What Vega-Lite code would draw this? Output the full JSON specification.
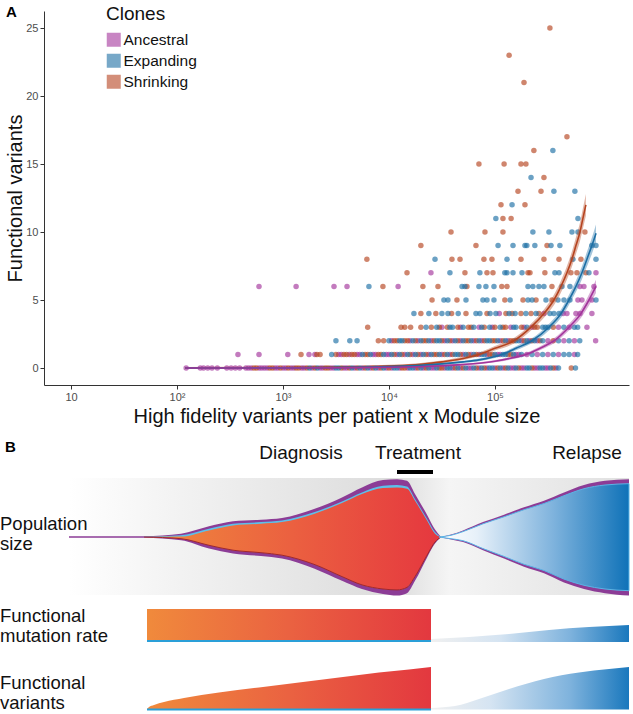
{
"$schema":"https://vega.github.io/schema/vega-lite/v6.json",
"padding":{"top":4,"left":0,"right":0,"bottom":0},
"autosize":{"type":"pad"},
"background":"white",
"spacing":14,
"config":{"view":{"stroke":null},"font":"Liberation Sans"},
"datasets":{
"pts":[
{"x":122,"y":0,"c":"Ancestral"},{"x":166,"y":0,"c":"Ancestral"},{"x":178,"y":0,"c":"Ancestral"},{"x":195,"y":0,"c":"Ancestral"},{"x":214,"y":0,"c":"Ancestral"},{"x":240,"y":0,"c":"Ancestral"},{"x":295,"y":0,"c":"Ancestral"},{"x":324,"y":0,"c":"Ancestral"},{"x":355,"y":0,"c":"Ancestral"},{"x":390,"y":0,"c":"Ancestral"},{"x":447,"y":0,"c":"Ancestral"},{"x":473,"y":0,"c":"Ancestral"},{"x":501,"y":0,"c":"Ancestral"},{"x":596,"y":0,"c":"Ancestral"},{"x":631,"y":0,"c":"Ancestral"},{"x":668,"y":0,"c":"Ancestral"},{"x":708,"y":0,"c":"Ancestral"},{"x":841,"y":0,"c":"Ancestral"},{"x":891,"y":0,"c":"Ancestral"},{"x":1000,"y":0,"c":"Ancestral"},{"x":1060,"y":0,"c":"Ancestral"},{"x":1190,"y":0,"c":"Ancestral"},{"x":1260,"y":0,"c":"Ancestral"},{"x":1500,"y":0,"c":"Ancestral"},{"x":1580,"y":0,"c":"Ancestral"},{"x":1880,"y":0,"c":"Ancestral"},{"x":2240,"y":0,"c":"Ancestral"},{"x":2370,"y":0,"c":"Ancestral"},{"x":2820,"y":0,"c":"Ancestral"},{"x":2990,"y":0,"c":"Ancestral"},{"x":3760,"y":0,"c":"Ancestral"},{"x":3980,"y":0,"c":"Ancestral"},{"x":4730,"y":0,"c":"Ancestral"},{"x":5620,"y":0,"c":"Ancestral"},{"x":6680,"y":0,"c":"Ancestral"},{"x":7940,"y":0,"c":"Ancestral"},{"x":9440,"y":0,"c":"Ancestral"},{"x":10600,"y":0,"c":"Ancestral"},{"x":12600,"y":0,"c":"Ancestral"},{"x":15000,"y":0,"c":"Ancestral"},{"x":17800,"y":0,"c":"Ancestral"},{"x":21100,"y":0,"c":"Ancestral"},{"x":25100,"y":0,"c":"Ancestral"},{"x":26600,"y":0,"c":"Ancestral"},{"x":33500,"y":0,"c":"Ancestral"},{"x":39800,"y":0,"c":"Ancestral"},{"x":47300,"y":0,"c":"Ancestral"},{"x":56200,"y":0,"c":"Ancestral"},{"x":59600,"y":0,"c":"Ancestral"},{"x":70800,"y":0,"c":"Ancestral"},{"x":84100,"y":0,"c":"Ancestral"},{"x":100000,"y":0,"c":"Ancestral"},{"x":119000,"y":0,"c":"Ancestral"},{"x":141000,"y":0,"c":"Ancestral"},{"x":150000,"y":0,"c":"Ancestral"},{"x":178000,"y":0,"c":"Ancestral"},{"x":188000,"y":0,"c":"Ancestral"},{"x":237000,"y":0,"c":"Ancestral"},{"x":251000,"y":0,"c":"Ancestral"},{"x":299000,"y":0,"c":"Ancestral"},{"x":316000,"y":0,"c":"Ancestral"},{"x":376000,"y":0,"c":"Ancestral"},
{"x":531,"y":0,"c":"Shrinking"},{"x":562,"y":0,"c":"Shrinking"},{"x":750,"y":0,"c":"Shrinking"},{"x":794,"y":0,"c":"Shrinking"},{"x":944,"y":0,"c":"Shrinking"},{"x":1120,"y":0,"c":"Shrinking"},{"x":1330,"y":0,"c":"Shrinking"},{"x":1410,"y":0,"c":"Shrinking"},{"x":1680,"y":0,"c":"Shrinking"},{"x":2000,"y":0,"c":"Shrinking"},{"x":2510,"y":0,"c":"Shrinking"},{"x":2660,"y":0,"c":"Shrinking"},{"x":3550,"y":0,"c":"Shrinking"},{"x":4220,"y":0,"c":"Shrinking"},{"x":5010,"y":0,"c":"Shrinking"},{"x":5960,"y":0,"c":"Shrinking"},{"x":7080,"y":0,"c":"Shrinking"},{"x":8410,"y":0,"c":"Shrinking"},{"x":10000,"y":0,"c":"Shrinking"},{"x":13300,"y":0,"c":"Shrinking"},{"x":14100,"y":0,"c":"Shrinking"},{"x":18800,"y":0,"c":"Shrinking"},{"x":22400,"y":0,"c":"Shrinking"},{"x":29900,"y":0,"c":"Shrinking"},{"x":31600,"y":0,"c":"Shrinking"},{"x":42200,"y":0,"c":"Shrinking"},{"x":50100,"y":0,"c":"Shrinking"},{"x":66800,"y":0,"c":"Shrinking"},{"x":79400,"y":0,"c":"Shrinking"},{"x":106000,"y":0,"c":"Shrinking"},{"x":126000,"y":0,"c":"Shrinking"},{"x":168000,"y":0,"c":"Shrinking"},{"x":224000,"y":0,"c":"Shrinking"},{"x":355000,"y":0,"c":"Shrinking"},{"x":525000,"y":0,"c":"Shrinking"},
{"x":1780,"y":0,"c":"Expanding"},{"x":2110,"y":0,"c":"Expanding"},{"x":3160,"y":0,"c":"Expanding"},{"x":3350,"y":0,"c":"Expanding"},{"x":4470,"y":0,"c":"Expanding"},{"x":5310,"y":0,"c":"Expanding"},{"x":6310,"y":0,"c":"Expanding"},{"x":7500,"y":0,"c":"Expanding"},{"x":8910,"y":0,"c":"Expanding"},{"x":11200,"y":0,"c":"Expanding"},{"x":11900,"y":0,"c":"Expanding"},{"x":15800,"y":0,"c":"Expanding"},{"x":16800,"y":0,"c":"Expanding"},{"x":20000,"y":0,"c":"Expanding"},{"x":23700,"y":0,"c":"Expanding"},{"x":28200,"y":0,"c":"Expanding"},{"x":35500,"y":0,"c":"Expanding"},{"x":37600,"y":0,"c":"Expanding"},{"x":44700,"y":0,"c":"Expanding"},{"x":53100,"y":0,"c":"Expanding"},{"x":63100,"y":0,"c":"Expanding"},{"x":75000,"y":0,"c":"Expanding"},{"x":89100,"y":0,"c":"Expanding"},{"x":94400,"y":0,"c":"Expanding"},{"x":112000,"y":0,"c":"Expanding"},{"x":133000,"y":0,"c":"Expanding"},{"x":158000,"y":0,"c":"Expanding"},{"x":200000,"y":0,"c":"Expanding"},{"x":211000,"y":0,"c":"Expanding"},{"x":266000,"y":0,"c":"Expanding"},{"x":282000,"y":0,"c":"Expanding"},{"x":335000,"y":0,"c":"Expanding"},{"x":398000,"y":0,"c":"Expanding"},{"x":575000,"y":0,"c":"Expanding"},
{"x":376,"y":1,"c":"Ancestral"},{"x":594,"y":1,"c":"Ancestral"},{"x":1110,"y":1,"c":"Ancestral"},{"x":1760,"y":1,"c":"Ancestral"},{"x":2000,"y":1,"c":"Ancestral"},{"x":3350,"y":1,"c":"Ancestral"},{"x":3550,"y":1,"c":"Ancestral"},{"x":4220,"y":1,"c":"Ancestral"},{"x":5010,"y":1,"c":"Ancestral"},{"x":5310,"y":1,"c":"Ancestral"},{"x":7080,"y":1,"c":"Ancestral"},{"x":7500,"y":1,"c":"Ancestral"},{"x":9440,"y":1,"c":"Ancestral"},{"x":10000,"y":1,"c":"Ancestral"},{"x":11900,"y":1,"c":"Ancestral"},{"x":14100,"y":1,"c":"Ancestral"},{"x":16800,"y":1,"c":"Ancestral"},{"x":20000,"y":1,"c":"Ancestral"},{"x":23700,"y":1,"c":"Ancestral"},{"x":31600,"y":1,"c":"Ancestral"},{"x":37600,"y":1,"c":"Ancestral"},{"x":50100,"y":1,"c":"Ancestral"},{"x":59600,"y":1,"c":"Ancestral"},{"x":70800,"y":1,"c":"Ancestral"},{"x":84100,"y":1,"c":"Ancestral"},{"x":106000,"y":1,"c":"Ancestral"},{"x":112000,"y":1,"c":"Ancestral"},{"x":158000,"y":1,"c":"Ancestral"},{"x":168000,"y":1,"c":"Ancestral"},{"x":200000,"y":1,"c":"Ancestral"},{"x":251000,"y":1,"c":"Ancestral"},{"x":316000,"y":1,"c":"Ancestral"},{"x":398000,"y":1,"c":"Ancestral"},{"x":562000,"y":1,"c":"Ancestral"},
{"x":1480,"y":1,"c":"Shrinking"},{"x":2090,"y":1,"c":"Shrinking"},{"x":2240,"y":1,"c":"Shrinking"},{"x":3160,"y":1,"c":"Shrinking"},{"x":3760,"y":1,"c":"Shrinking"},{"x":3980,"y":1,"c":"Shrinking"},{"x":4470,"y":1,"c":"Shrinking"},{"x":4730,"y":1,"c":"Shrinking"},{"x":5960,"y":1,"c":"Shrinking"},{"x":6310,"y":1,"c":"Shrinking"},{"x":7940,"y":1,"c":"Shrinking"},{"x":8410,"y":1,"c":"Shrinking"},{"x":11200,"y":1,"c":"Shrinking"},{"x":13300,"y":1,"c":"Shrinking"},{"x":15800,"y":1,"c":"Shrinking"},{"x":18800,"y":1,"c":"Shrinking"},{"x":22400,"y":1,"c":"Shrinking"},{"x":26600,"y":1,"c":"Shrinking"},{"x":28200,"y":1,"c":"Shrinking"},{"x":33500,"y":1,"c":"Shrinking"},{"x":39800,"y":1,"c":"Shrinking"},{"x":47300,"y":1,"c":"Shrinking"},{"x":56200,"y":1,"c":"Shrinking"},{"x":66800,"y":1,"c":"Shrinking"},{"x":89100,"y":1,"c":"Shrinking"},{"x":94400,"y":1,"c":"Shrinking"},{"x":133000,"y":1,"c":"Shrinking"},{"x":141000,"y":1,"c":"Shrinking"},
{"x":2880,"y":1,"c":"Expanding"},{"x":5620,"y":1,"c":"Expanding"},{"x":6680,"y":1,"c":"Expanding"},{"x":8910,"y":1,"c":"Expanding"},{"x":10600,"y":1,"c":"Expanding"},{"x":12600,"y":1,"c":"Expanding"},{"x":15000,"y":1,"c":"Expanding"},{"x":17800,"y":1,"c":"Expanding"},{"x":21100,"y":1,"c":"Expanding"},{"x":25100,"y":1,"c":"Expanding"},{"x":29900,"y":1,"c":"Expanding"},{"x":35500,"y":1,"c":"Expanding"},{"x":42200,"y":1,"c":"Expanding"},{"x":44700,"y":1,"c":"Expanding"},{"x":53100,"y":1,"c":"Expanding"},{"x":63100,"y":1,"c":"Expanding"},{"x":75000,"y":1,"c":"Expanding"},{"x":79400,"y":1,"c":"Expanding"},{"x":100000,"y":1,"c":"Expanding"},{"x":119000,"y":1,"c":"Expanding"},{"x":126000,"y":1,"c":"Expanding"},{"x":150000,"y":1,"c":"Expanding"},{"x":178000,"y":1,"c":"Expanding"},{"x":224000,"y":1,"c":"Expanding"},{"x":282000,"y":1,"c":"Expanding"},{"x":355000,"y":1,"c":"Expanding"},{"x":447000,"y":1,"c":"Expanding"},{"x":501000,"y":1,"c":"Expanding"},{"x":603000,"y":1,"c":"Expanding"},
{"x":10600,"y":2,"c":"Ancestral"},{"x":15800,"y":2,"c":"Ancestral"},{"x":18800,"y":2,"c":"Ancestral"},{"x":25100,"y":2,"c":"Ancestral"},{"x":33500,"y":2,"c":"Ancestral"},{"x":39800,"y":2,"c":"Ancestral"},{"x":47300,"y":2,"c":"Ancestral"},{"x":63100,"y":2,"c":"Ancestral"},{"x":75000,"y":2,"c":"Ancestral"},{"x":112000,"y":2,"c":"Ancestral"},{"x":133000,"y":2,"c":"Ancestral"},{"x":178000,"y":2,"c":"Ancestral"},{"x":211000,"y":2,"c":"Ancestral"},{"x":251000,"y":2,"c":"Ancestral"},{"x":316000,"y":2,"c":"Ancestral"},{"x":447000,"y":2,"c":"Ancestral"},{"x":562000,"y":2,"c":"Ancestral"},{"x":891000,"y":2,"c":"Ancestral"},
{"x":7940,"y":2,"c":"Shrinking"},{"x":8910,"y":2,"c":"Shrinking"},{"x":11200,"y":2,"c":"Shrinking"},{"x":11900,"y":2,"c":"Shrinking"},{"x":14100,"y":2,"c":"Shrinking"},{"x":15000,"y":2,"c":"Shrinking"},{"x":17800,"y":2,"c":"Shrinking"},{"x":21100,"y":2,"c":"Shrinking"},{"x":22400,"y":2,"c":"Shrinking"},{"x":26600,"y":2,"c":"Shrinking"},{"x":31600,"y":2,"c":"Shrinking"},{"x":37600,"y":2,"c":"Shrinking"},{"x":44700,"y":2,"c":"Shrinking"},{"x":53100,"y":2,"c":"Shrinking"},{"x":56200,"y":2,"c":"Shrinking"},{"x":66800,"y":2,"c":"Shrinking"},{"x":79400,"y":2,"c":"Shrinking"},{"x":94400,"y":2,"c":"Shrinking"},{"x":100000,"y":2,"c":"Shrinking"},{"x":119000,"y":2,"c":"Shrinking"},{"x":141000,"y":2,"c":"Shrinking"},{"x":150000,"y":2,"c":"Shrinking"},{"x":188000,"y":2,"c":"Shrinking"},{"x":224000,"y":2,"c":"Shrinking"},{"x":266000,"y":2,"c":"Shrinking"},{"x":355000,"y":2,"c":"Shrinking"},
{"x":3160,"y":2,"c":"Expanding"},{"x":4270,"y":2,"c":"Expanding"},{"x":5000,"y":2,"c":"Expanding"},{"x":10000,"y":2,"c":"Expanding"},{"x":12600,"y":2,"c":"Expanding"},{"x":13300,"y":2,"c":"Expanding"},{"x":16800,"y":2,"c":"Expanding"},{"x":20000,"y":2,"c":"Expanding"},{"x":23700,"y":2,"c":"Expanding"},{"x":28200,"y":2,"c":"Expanding"},{"x":29900,"y":2,"c":"Expanding"},{"x":35500,"y":2,"c":"Expanding"},{"x":42200,"y":2,"c":"Expanding"},{"x":50100,"y":2,"c":"Expanding"},{"x":59600,"y":2,"c":"Expanding"},{"x":70800,"y":2,"c":"Expanding"},{"x":84100,"y":2,"c":"Expanding"},{"x":89100,"y":2,"c":"Expanding"},{"x":106000,"y":2,"c":"Expanding"},{"x":126000,"y":2,"c":"Expanding"},{"x":158000,"y":2,"c":"Expanding"},{"x":168000,"y":2,"c":"Expanding"},{"x":200000,"y":2,"c":"Expanding"},{"x":237000,"y":2,"c":"Expanding"},{"x":282000,"y":2,"c":"Expanding"},{"x":398000,"y":2,"c":"Expanding"},{"x":501000,"y":2,"c":"Expanding"},{"x":631000,"y":2,"c":"Expanding"},
{"x":31600,"y":3,"c":"Ancestral"},{"x":47300,"y":3,"c":"Ancestral"},{"x":70800,"y":3,"c":"Ancestral"},{"x":94400,"y":3,"c":"Ancestral"},{"x":141000,"y":3,"c":"Ancestral"},{"x":188000,"y":3,"c":"Ancestral"},{"x":224000,"y":3,"c":"Ancestral"},{"x":398000,"y":3,"c":"Ancestral"},{"x":501000,"y":3,"c":"Ancestral"},{"x":738000,"y":3,"c":"Ancestral"},
{"x":6300,"y":3,"c":"Shrinking"},{"x":13000,"y":3,"c":"Shrinking"},{"x":14100,"y":3,"c":"Shrinking"},{"x":16000,"y":3,"c":"Shrinking"},{"x":20000,"y":3,"c":"Shrinking"},{"x":25100,"y":3,"c":"Shrinking"},{"x":29900,"y":3,"c":"Shrinking"},{"x":35500,"y":3,"c":"Shrinking"},{"x":44700,"y":3,"c":"Shrinking"},{"x":56200,"y":3,"c":"Shrinking"},{"x":59600,"y":3,"c":"Shrinking"},{"x":79400,"y":3,"c":"Shrinking"},{"x":100000,"y":3,"c":"Shrinking"},{"x":119000,"y":3,"c":"Shrinking"},{"x":126000,"y":3,"c":"Shrinking"},{"x":178000,"y":3,"c":"Shrinking"},{"x":237000,"y":3,"c":"Shrinking"},{"x":251000,"y":3,"c":"Shrinking"},{"x":355000,"y":3,"c":"Shrinking"},
{"x":22400,"y":3,"c":"Expanding"},{"x":28200,"y":3,"c":"Expanding"},{"x":37600,"y":3,"c":"Expanding"},{"x":39800,"y":3,"c":"Expanding"},{"x":50100,"y":3,"c":"Expanding"},{"x":63100,"y":3,"c":"Expanding"},{"x":75000,"y":3,"c":"Expanding"},{"x":89100,"y":3,"c":"Expanding"},{"x":112000,"y":3,"c":"Expanding"},{"x":150000,"y":3,"c":"Expanding"},{"x":158000,"y":3,"c":"Expanding"},{"x":200000,"y":3,"c":"Expanding"},{"x":282000,"y":3,"c":"Expanding"},{"x":299000,"y":3,"c":"Expanding"},{"x":316000,"y":3,"c":"Expanding"},{"x":447000,"y":3,"c":"Expanding"},{"x":562000,"y":3,"c":"Expanding"},{"x":603000,"y":3,"c":"Expanding"},
{"x":110000,"y":4,"c":"Ancestral"},{"x":290000,"y":4,"c":"Ancestral"},{"x":440000,"y":4,"c":"Ancestral"},{"x":478000,"y":4,"c":"Ancestral"},{"x":581000,"y":4,"c":"Ancestral"},{"x":634000,"y":4,"c":"Ancestral"},{"x":822000,"y":4,"c":"Ancestral"},
{"x":20000,"y":4,"c":"Shrinking"},{"x":27700,"y":4,"c":"Shrinking"},{"x":39000,"y":4,"c":"Shrinking"},{"x":53300,"y":4,"c":"Shrinking"},{"x":84100,"y":4,"c":"Shrinking"},{"x":127000,"y":4,"c":"Shrinking"},{"x":145000,"y":4,"c":"Shrinking"},{"x":176000,"y":4,"c":"Shrinking"},{"x":219000,"y":4,"c":"Shrinking"},{"x":260000,"y":4,"c":"Shrinking"},
{"x":17200,"y":4,"c":"Expanding"},{"x":23800,"y":4,"c":"Expanding"},{"x":31600,"y":4,"c":"Expanding"},{"x":36000,"y":4,"c":"Expanding"},{"x":45000,"y":4,"c":"Expanding"},{"x":66200,"y":4,"c":"Expanding"},{"x":72100,"y":4,"c":"Expanding"},{"x":90000,"y":4,"c":"Expanding"},{"x":102000,"y":4,"c":"Expanding"},{"x":136000,"y":4,"c":"Expanding"},{"x":155000,"y":4,"c":"Expanding"},{"x":196000,"y":4,"c":"Expanding"},{"x":244000,"y":4,"c":"Expanding"},{"x":330000,"y":4,"c":"Expanding"},{"x":360000,"y":4,"c":"Expanding"},{"x":402000,"y":4,"c":"Expanding"},
{"x":607000,"y":5,"c":"Ancestral"},{"x":662000,"y":5,"c":"Ancestral"},{"x":822000,"y":5,"c":"Ancestral"},
{"x":25500,"y":5,"c":"Shrinking"},{"x":43800,"y":5,"c":"Shrinking"},{"x":124000,"y":5,"c":"Shrinking"},{"x":184000,"y":5,"c":"Shrinking"},{"x":244000,"y":5,"c":"Shrinking"},{"x":345000,"y":5,"c":"Shrinking"},
{"x":33000,"y":5,"c":"Expanding"},{"x":36000,"y":5,"c":"Expanding"},{"x":53300,"y":5,"c":"Expanding"},{"x":77000,"y":5,"c":"Expanding"},{"x":84100,"y":5,"c":"Expanding"},{"x":97900,"y":5,"c":"Expanding"},{"x":139000,"y":5,"c":"Expanding"},{"x":205000,"y":5,"c":"Expanding"},{"x":224000,"y":5,"c":"Expanding"},{"x":303000,"y":5,"c":"Expanding"},{"x":393000,"y":5,"c":"Expanding"},{"x":448000,"y":5,"c":"Expanding"},{"x":510000,"y":5,"c":"Expanding"},{"x":898000,"y":5,"c":"Expanding"},
{"x":594,"y":6,"c":"Ancestral"},{"x":1330,"y":6,"c":"Ancestral"},{"x":3030,"y":6,"c":"Ancestral"},{"x":4020,"y":6,"c":"Ancestral"},{"x":12200,"y":6,"c":"Ancestral"},{"x":634000,"y":6,"c":"Ancestral"},{"x":691000,"y":6,"c":"Ancestral"},{"x":859000,"y":6,"c":"Ancestral"},
{"x":8770,"y":6,"c":"Shrinking"},{"x":20900,"y":6,"c":"Shrinking"},{"x":29000,"y":6,"c":"Shrinking"},{"x":54400,"y":6,"c":"Shrinking"},{"x":116000,"y":6,"c":"Shrinking"},{"x":130000,"y":6,"c":"Shrinking"},{"x":345000,"y":6,"c":"Shrinking"},
{"x":6470,"y":6,"c":"Expanding"},{"x":48900,"y":6,"c":"Expanding"},{"x":52100,"y":6,"c":"Expanding"},{"x":70600,"y":6,"c":"Expanding"},{"x":82200,"y":6,"c":"Expanding"},{"x":97900,"y":6,"c":"Expanding"},{"x":205000,"y":6,"c":"Expanding"},{"x":228000,"y":6,"c":"Expanding"},{"x":260000,"y":6,"c":"Expanding"},{"x":290000,"y":6,"c":"Expanding"},{"x":429000,"y":6,"c":"Expanding"},{"x":510000,"y":6,"c":"Expanding"},
{"x":24900,"y":7,"c":"Ancestral"},{"x":898000,"y":7,"c":"Ancestral"},
{"x":14800,"y":7,"c":"Shrinking"},{"x":52100,"y":7,"c":"Shrinking"},{"x":84100,"y":7,"c":"Shrinking"},{"x":95800,"y":7,"c":"Shrinking"},{"x":205000,"y":7,"c":"Shrinking"},{"x":214000,"y":7,"c":"Shrinking"},{"x":296000,"y":7,"c":"Shrinking"},{"x":521000,"y":7,"c":"Shrinking"},{"x":594000,"y":7,"c":"Shrinking"},{"x":721000,"y":7,"c":"Shrinking"},
{"x":37600,"y":7,"c":"Expanding"},{"x":72100,"y":7,"c":"Expanding"},{"x":124000,"y":7,"c":"Expanding"},{"x":130000,"y":7,"c":"Expanding"},{"x":148000,"y":7,"c":"Expanding"},{"x":180000,"y":7,"c":"Expanding"},{"x":368000,"y":7,"c":"Expanding"},{"x":402000,"y":7,"c":"Expanding"},{"x":771000,"y":7,"c":"Expanding"},
{"x":6190,"y":8,"c":"Shrinking"},{"x":39300,"y":8,"c":"Shrinking"},{"x":46800,"y":8,"c":"Shrinking"},{"x":78700,"y":8,"c":"Shrinking"},{"x":93700,"y":8,"c":"Shrinking"},{"x":176000,"y":8,"c":"Shrinking"},{"x":290000,"y":8,"c":"Shrinking"},{"x":402000,"y":8,"c":"Shrinking"},{"x":648000,"y":8,"c":"Shrinking"},
{"x":27200,"y":8,"c":"Expanding"},{"x":130000,"y":8,"c":"Expanding"},{"x":544000,"y":8,"c":"Expanding"},{"x":898000,"y":8,"c":"Expanding"},
{"x":20000,"y":9,"c":"Shrinking"},{"x":66200,"y":9,"c":"Shrinking"},{"x":310000,"y":9,"c":"Shrinking"},
{"x":107000,"y":9,"c":"Expanding"},{"x":148000,"y":9,"c":"Expanding"},{"x":192000,"y":9,"c":"Expanding"},{"x":200000,"y":9,"c":"Expanding"},{"x":238000,"y":9,"c":"Expanding"},{"x":338000,"y":9,"c":"Expanding"},{"x":410000,"y":9,"c":"Expanding"},{"x":822000,"y":9,"c":"Expanding"},{"x":898000,"y":9,"c":"Expanding"},
{"x":38500,"y":10,"c":"Shrinking"},{"x":80500,"y":10,"c":"Shrinking"},{"x":119000,"y":10,"c":"Shrinking"},{"x":706000,"y":10,"c":"Shrinking"},
{"x":228000,"y":10,"c":"Expanding"},{"x":323000,"y":10,"c":"Expanding"},{"x":533000,"y":10,"c":"Expanding"},{"x":607000,"y":10,"c":"Expanding"},
{"x":102000,"y":11,"c":"Expanding"},{"x":119000,"y":11,"c":"Shrinking"},{"x":142000,"y":11,"c":"Shrinking"},{"x":607000,"y":11,"c":"Expanding"},
{"x":114000,"y":12,"c":"Shrinking"},{"x":145000,"y":12,"c":"Expanding"},{"x":192000,"y":12,"c":"Shrinking"},
{"x":165000,"y":13,"c":"Shrinking"},{"x":272000,"y":13,"c":"Shrinking"},{"x":360000,"y":13,"c":"Expanding"},{"x":568000,"y":13,"c":"Expanding"},
{"x":219000,"y":14,"c":"Expanding"},{"x":290000,"y":14,"c":"Shrinking"},
{"x":70600,"y":15,"c":"Shrinking"},{"x":122000,"y":15,"c":"Shrinking"},{"x":176000,"y":15,"c":"Shrinking"},{"x":196000,"y":15,"c":"Shrinking"},
{"x":233000,"y":16,"c":"Shrinking"},{"x":352000,"y":16,"c":"Expanding"},
{"x":478000,"y":17,"c":"Shrinking"},
{"x":188000,"y":21,"c":"Shrinking"},
{"x":136000,"y":23,"c":"Shrinking"},
{"x":330000,"y":25,"c":"Shrinking"}
],
"fit":[
{"c":"Shrinking","x":120,"y":0,"lo":-0.08,"hi":0.08},{"c":"Shrinking","x":1000,"y":0.02,"lo":-0.06,"hi":0.1},{"c":"Shrinking","x":3160,"y":0.05,"lo":-0.03,"hi":0.13},{"c":"Shrinking","x":10000,"y":0.15,"lo":0.07,"hi":0.23},{"c":"Shrinking","x":20000,"y":0.28,"lo":0.19,"hi":0.37},{"c":"Shrinking","x":31600,"y":0.45,"lo":0.35,"hi":0.55},{"c":"Shrinking","x":50100,"y":0.7,"lo":0.58,"hi":0.82},{"c":"Shrinking","x":70600,"y":1.0,"lo":0.86,"hi":1.14},{"c":"Shrinking","x":100000,"y":1.45,"lo":1.28,"hi":1.62},{"c":"Shrinking","x":151000,"y":2.0,"lo":1.8,"hi":2.2},{"c":"Shrinking","x":219000,"y":3.0,"lo":2.75,"hi":3.25},{"c":"Shrinking","x":290000,"y":4.0,"lo":3.7,"hi":4.3},{"c":"Shrinking","x":360000,"y":5.0,"lo":4.62,"hi":5.38},{"c":"Shrinking","x":420000,"y":6.0,"lo":5.56,"hi":6.44},{"c":"Shrinking","x":478000,"y":7.0,"lo":6.5,"hi":7.5},{"c":"Shrinking","x":532000,"y":8.0,"lo":7.44,"hi":8.56},{"c":"Shrinking","x":581000,"y":9.0,"lo":8.38,"hi":9.62},{"c":"Shrinking","x":634000,"y":10.0,"lo":9.32,"hi":10.68},{"c":"Shrinking","x":676000,"y":11.0,"lo":10.26,"hi":11.74},{"c":"Shrinking","x":721000,"y":12.0,"lo":11.2,"hi":12.8},
{"c":"Expanding","x":120,"y":0,"lo":-0.06,"hi":0.06},{"c":"Expanding","x":1000,"y":0.01,"lo":-0.05,"hi":0.07},{"c":"Expanding","x":3160,"y":0.04,"lo":-0.02,"hi":0.1},{"c":"Expanding","x":10000,"y":0.1,"lo":0.04,"hi":0.16},{"c":"Expanding","x":20000,"y":0.2,"lo":0.13,"hi":0.27},{"c":"Expanding","x":31600,"y":0.3,"lo":0.22,"hi":0.38},{"c":"Expanding","x":50100,"y":0.45,"lo":0.36,"hi":0.54},{"c":"Expanding","x":70800,"y":0.6,"lo":0.5,"hi":0.7},{"c":"Expanding","x":116000,"y":1.0,"lo":0.88,"hi":1.12},{"c":"Expanding","x":158000,"y":1.45,"lo":1.3,"hi":1.6},{"c":"Expanding","x":223000,"y":2.0,"lo":1.82,"hi":2.18},{"c":"Expanding","x":323000,"y":3.0,"lo":2.76,"hi":3.24},{"c":"Expanding","x":420000,"y":4.0,"lo":3.7,"hi":4.3},{"c":"Expanding","x":499000,"y":5.0,"lo":4.64,"hi":5.36},{"c":"Expanding","x":581000,"y":6.0,"lo":5.58,"hi":6.42},{"c":"Expanding","x":662000,"y":7.0,"lo":6.52,"hi":7.48},{"c":"Expanding","x":738000,"y":8.0,"lo":7.46,"hi":8.54},{"c":"Expanding","x":822000,"y":9.0,"lo":8.4,"hi":9.6},{"c":"Expanding","x":898000,"y":9.9,"lo":9.24,"hi":10.56},
{"c":"Ancestral","x":120,"y":0,"lo":-0.05,"hi":0.05},{"c":"Ancestral","x":1000,"y":0.005,"lo":-0.04,"hi":0.05},{"c":"Ancestral","x":3160,"y":0.02,"lo":-0.02,"hi":0.06},{"c":"Ancestral","x":10000,"y":0.05,"lo":0.01,"hi":0.09},{"c":"Ancestral","x":31600,"y":0.17,"lo":0.11,"hi":0.23},{"c":"Ancestral","x":70800,"y":0.35,"lo":0.28,"hi":0.42},{"c":"Ancestral","x":100000,"y":0.5,"lo":0.42,"hi":0.58},{"c":"Ancestral","x":141000,"y":0.72,"lo":0.62,"hi":0.82},{"c":"Ancestral","x":196000,"y":1.0,"lo":0.88,"hi":1.12},{"c":"Ancestral","x":282000,"y":1.55,"lo":1.4,"hi":1.7},{"c":"Ancestral","x":360000,"y":2.0,"lo":1.82,"hi":2.18},{"c":"Ancestral","x":499000,"y":3.0,"lo":2.76,"hi":3.24},{"c":"Ancestral","x":647000,"y":4.0,"lo":3.68,"hi":4.32},{"c":"Ancestral","x":771000,"y":5.0,"lo":4.6,"hi":5.4},{"c":"Ancestral","x":898000,"y":6.0,"lo":5.52,"hi":6.48}
],
"fishL":[
{"t":70,"pt":177.8,"bt":177.4,"rt":177,"rb":177,"pb":176.2},
{"t":145,"pt":177.8,"bt":177.4,"rt":177,"rb":177,"pb":176.2},
{"t":182,"pt":180.3,"bt":178.7,"rt":177.4,"rb":175.3,"pb":173.7},
{"t":210,"pt":187.7,"bt":185.3,"rt":183.6,"rb":168.7,"pb":165.4},
{"t":234,"pt":192.7,"bt":190.2,"rt":188.6,"rb":163.8,"pb":160.5},
{"t":262,"pt":194.3,"bt":191.9,"rt":190.2,"rb":161.3,"pb":158},
{"t":283,"pt":196,"bt":193.5,"rt":191.9,"rb":158.8,"pb":155.5},
{"t":315,"pt":205.1,"bt":201.8,"rt":200.1,"rb":149.7,"pb":145.6},
{"t":343,"pt":216.6,"bt":212.5,"rt":210.9,"rb":137.4,"pb":133.2},
{"t":363,"pt":226.6,"bt":221.6,"rt":220,"rb":129.1,"pb":125},
{"t":384,"pt":234,"bt":228.2,"rt":226.1,"rb":125,"pb":120},
{"t":398,"pt":234.8,"bt":229,"rt":226.6,"rb":124.1,"pb":118.4},
{"t":408,"pt":233.2,"bt":227.4,"rt":225.3,"rb":126.6,"pb":120.8},
{"t":416,"pt":220,"bt":215,"rt":213.3,"rb":137.4,"pb":133.2},
{"t":428,"pt":199.3,"bt":195.2,"rt":193.5,"rb":158.8,"pb":156.3},
{"t":436,"pt":184.4,"bt":182,"rt":180.3,"rb":172,"pb":170.4},
{"t":442,"pt":177,"bt":177,"rt":177,"rb":177,"pb":177}
],
"fishR":[
{"t":440,"pt":177,"it":177,"ib":177,"pb":177},
{"t":452,"pt":179.5,"it":178.7,"ib":175.3,"pb":174.5},
{"t":464,"pt":183.6,"it":182.4,"ib":173.3,"pb":172},
{"t":484,"pt":191.9,"it":190.2,"ib":165.4,"pb":163.8},
{"t":505,"pt":199.3,"it":197.2,"ib":157.6,"pb":155.5},
{"t":525,"pt":206.7,"it":204.3,"ib":149.7,"pb":147.3},
{"t":545,"pt":213.3,"it":210.5,"ib":143.5,"pb":140.7},
{"t":565,"pt":221.6,"it":218.3,"ib":134.9,"pb":131.6},
{"t":585,"pt":229,"it":225.3,"ib":128.7,"pb":125},
{"t":606,"pt":233.2,"it":229,"ib":125,"pb":120.8},
{"t":630,"pt":234.8,"it":230.3,"ib":123.3,"pb":118.4}
],
"mutR":[
{"t":432,"top":75,"bot":72},{"t":470,"top":77,"bot":72},{"t":510,"top":80,"bot":72},{"t":550,"top":84,"bot":72},{"t":590,"top":87,"bot":72},{"t":630,"top":89,"bot":72}
],
"varL":[
{"t":148,"top":5,"bot":5},{"t":150,"top":7,"bot":5},{"t":155,"top":9,"bot":5},{"t":165,"top":12,"bot":5},{"t":185,"top":16,"bot":5},{"t":220,"top":21.5,"bot":5},{"t":260,"top":26.5,"bot":5},{"t":300,"top":31.5,"bot":5},{"t":340,"top":36.5,"bot":5},{"t":380,"top":41.5,"bot":5},{"t":410,"top":44.5,"bot":5},{"t":432,"top":47,"bot":5}
],
"varR":[
{"t":432,"top":6,"bot":4.5},{"t":456,"top":8,"bot":4.5},{"t":480,"top":15,"bot":4.5},{"t":510,"top":25,"bot":4.5},{"t":545,"top":35,"bot":4.5},{"t":580,"top":41.5,"bot":4.5},{"t":610,"top":45,"bot":4.5},{"t":630,"top":47,"bot":4.5}
]
},
"vconcat":[
{
"width":585,"height":374,
"layer":[
{"data":{"name":"pts"},
 "mark":{"type":"circle","size":30,"opacity":0.65},
 "encoding":{
  "x":{"field":"x","type":"quantitative","title":"High fidelity variants per patient x Module size",
       "scale":{"type":"log","domain":[5.56,1840000],"nice":false},
       "axis":{"values":[10,100,1000,10000,100000],"labelExpr":"datum.value==10?'10':datum.value==100?'10²':datum.value==1000?'10³':datum.value==10000?'10⁴':'10⁵'","grid":false,"domainColor":"#333333","tickColor":"#333333","tickSize":4,"labelFontSize":11,"labelColor":"#4d4d4d","labelPadding":2,"titleFontSize":20,"titleFontWeight":"normal","titleColor":"#111111","titlePadding":4}},
  "y":{"field":"y","type":"quantitative","title":"Functional variants",
       "scale":{"domain":[-1.25,26.25],"nice":false,"zero":false},
       "axis":{"values":[0,5,10,15,20,25],"grid":false,"domainColor":"#333333","tickColor":"#333333","tickSize":4,"labelFontSize":11,"labelColor":"#4d4d4d","labelPadding":2,"titleFontSize":20,"titleFontWeight":"normal","titleColor":"#111111","titlePadding":0}},
  "color":{"field":"c","type":"nominal",
       "scale":{"domain":["Ancestral","Expanding","Shrinking"],"range":["#a3349b","#1c6ea4","#b5431f"]},
       "legend":{"title":"Clones","orient":"none","legendX":62,"legendY":-6,"padding":0,"symbolType":"square","symbolSize":196,"symbolOpacity":0.6,"symbolStrokeWidth":0,"titleFontSize":19,"titleFontWeight":"normal","titleColor":"#111111","labelFontSize":15.5,"labelColor":"#111111","labelOffset":2,"rowPadding":4,"titlePadding":8}}
 }},
{"data":{"name":"fit"},
 "mark":{"type":"area","opacity":0.4,"interpolate":"monotone"},
 "encoding":{
  "x":{"field":"x","type":"quantitative","title":"High fidelity variants per patient x Module size"},
  "y":{"field":"lo","type":"quantitative","title":"Functional variants"},
  "y2":{"field":"hi"},
  "color":{"field":"c","type":"nominal","legend":null}
 }},
{"data":{"name":"fit"},
 "mark":{"type":"line","strokeWidth":1.6,"interpolate":"monotone"},
 "encoding":{
  "x":{"field":"x","type":"quantitative","title":"High fidelity variants per patient x Module size"},
  "y":{"field":"y","type":"quantitative","title":"Functional variants"},
  "color":{"field":"c","type":"nominal","legend":null}
 }},
{"data":{"values":[{"x":2.43,"y":26.2,"s":"A"}]},
 "mark":{"type":"text","fontSize":15,"fontWeight":"bold","align":"left","baseline":"middle","color":"#000000"},
 "encoding":{
  "x":{"field":"x","type":"quantitative","title":"High fidelity variants per patient x Module size"},
  "y":{"field":"y","type":"quantitative","title":"Functional variants"},
  "text":{"field":"s"}
 }}
]
},
{
"width":585,"height":274,
"layer":[
{"data":{"values":[{"t1":70,"t2":630,"v1":119,"v2":236}]},
 "mark":{"type":"rect","fill":{"gradient":"linear","x1":0,"y1":0,"x2":1,"y2":0,"stops":[{"offset":0,"color":"#ffffff"},{"offset":0.2,"color":"#f2f2f2"},{"offset":0.58,"color":"#dcdcdc"},{"offset":0.68,"color":"#f5f5f5"},{"offset":1,"color":"#e0e0e0"}]}},
 "encoding":{
  "x":{"field":"t1","type":"quantitative","scale":{"domain":[45,630],"nice":false,"zero":false},"axis":null},
  "x2":{"field":"t2"},
  "y":{"field":"v1","type":"quantitative","scale":{"domain":[0,274],"nice":false,"zero":false},"axis":null},
  "y2":{"field":"v2"}
 }},
{"data":{"name":"fishL"},
 "mark":{"type":"area","orient":"vertical","fill":"#8c3c96","interpolate":"monotone"},
 "encoding":{"x":{"field":"t","type":"quantitative"},"y":{"field":"pt","type":"quantitative"},"y2":{"field":"pb"}}},
{"data":{"name":"fishL"},
 "transform":[{"filter":"datum.t >= 145"}],
 "mark":{"type":"area","orient":"vertical","fill":"#5cc0ea","interpolate":"monotone"},
 "encoding":{"x":{"field":"t","type":"quantitative"},"y":{"field":"bt","type":"quantitative"},"y2":{"field":"rb"}}},
{"data":{"name":"fishL"},
 "transform":[{"filter":"datum.t >= 145"}],
 "mark":{"type":"area","orient":"vertical","interpolate":"monotone","fill":{"gradient":"linear","x1":0,"y1":0,"x2":1,"y2":0,"stops":[{"offset":0,"color":"#f08a3c"},{"offset":0.5,"color":"#eb6040"},{"offset":1,"color":"#e5373f"}]}},
 "encoding":{"x":{"field":"t","type":"quantitative"},"y":{"field":"rt","type":"quantitative"},"y2":{"field":"rb"}}},
{"data":{"name":"fishL"},
 "transform":[{"filter":"datum.t >= 145"}],
 "mark":{"type":"line","stroke":"#a3262b","strokeWidth":1,"interpolate":"monotone"},
 "encoding":{"x":{"field":"t","type":"quantitative"},"y":{"field":"rb","type":"quantitative"}}},
{"data":{"name":"fishR"},
 "mark":{"type":"area","orient":"vertical","fill":"#8c3c96","interpolate":"monotone"},
 "encoding":{"x":{"field":"t","type":"quantitative"},"y":{"field":"pt","type":"quantitative"},"y2":{"field":"pb"}}},
{"data":{"name":"fishR"},
 "mark":{"type":"area","orient":"vertical","interpolate":"monotone","stroke":"#5ab4e5","strokeWidth":1,"fill":{"gradient":"linear","x1":0,"y1":0,"x2":1,"y2":0,"stops":[{"offset":0,"color":"#ffffff"},{"offset":0.2,"color":"#e6f0f9"},{"offset":0.6,"color":"#7fb3dd"},{"offset":1,"color":"#0f72b8"}]}},
 "encoding":{"x":{"field":"t","type":"quantitative"},"y":{"field":"it","type":"quantitative"},"y2":{"field":"ib"}}},
{"data":{"values":[{"t1":398,"t2":434,"v1":240,"v2":244}]},
 "mark":{"type":"rect","fill":"#000000"},
 "encoding":{"x":{"field":"t1","type":"quantitative"},"x2":{"field":"t2"},"y":{"field":"v1","type":"quantitative"},"y2":{"field":"v2"}}},
{"data":{"values":[{"t1":148,"t2":432,"v1":74,"v2":105}]},
 "mark":{"type":"rect","fill":{"gradient":"linear","x1":0,"y1":0,"x2":1,"y2":0,"stops":[{"offset":0,"color":"#f08a3c"},{"offset":0.5,"color":"#ea6241"},{"offset":1,"color":"#e3383f"}]}},
 "encoding":{"x":{"field":"t1","type":"quantitative"},"x2":{"field":"t2"},"y":{"field":"v1","type":"quantitative"},"y2":{"field":"v2"}}},
{"data":{"values":[{"t1":148,"t2":432,"v1":72,"v2":74}]},
 "mark":{"type":"rect","fill":"#2a9fd8"},
 "encoding":{"x":{"field":"t1","type":"quantitative"},"x2":{"field":"t2"},"y":{"field":"v1","type":"quantitative"},"y2":{"field":"v2"}}},
{"data":{"name":"mutR"},
 "mark":{"type":"area","orient":"vertical","interpolate":"monotone","fill":{"gradient":"linear","x1":0,"y1":0,"x2":1,"y2":0,"stops":[{"offset":0,"color":"#f0f0f0"},{"offset":0.35,"color":"#d5e4f2"},{"offset":0.7,"color":"#7fb3dd"},{"offset":1,"color":"#1a78bd"}]}},
 "encoding":{"x":{"field":"t","type":"quantitative"},"y":{"field":"top","type":"quantitative"},"y2":{"field":"bot"}}},
{"data":{"name":"varL"},
 "mark":{"type":"area","orient":"vertical","interpolate":"monotone","fill":{"gradient":"linear","x1":0,"y1":0,"x2":1,"y2":0,"stops":[{"offset":0,"color":"#f08a3c"},{"offset":0.5,"color":"#ea6241"},{"offset":1,"color":"#e3383f"}]}},
 "encoding":{"x":{"field":"t","type":"quantitative"},"y":{"field":"top","type":"quantitative"},"y2":{"field":"bot"}}},
{"data":{"values":[{"t1":148,"t2":432,"v1":3.5,"v2":5.5}]},
 "mark":{"type":"rect","fill":"#2a9fd8"},
 "encoding":{"x":{"field":"t1","type":"quantitative"},"x2":{"field":"t2"},"y":{"field":"v1","type":"quantitative"},"y2":{"field":"v2"}}},
{"data":{"name":"varR"},
 "mark":{"type":"area","orient":"vertical","interpolate":"monotone","fill":{"gradient":"linear","x1":0,"y1":0,"x2":1,"y2":0,"stops":[{"offset":0,"color":"#f0f0f0"},{"offset":0.3,"color":"#d5e4f2"},{"offset":0.7,"color":"#7fb3dd"},{"offset":1,"color":"#1a78bd"}]}},
 "encoding":{"x":{"field":"t","type":"quantitative"},"y":{"field":"top","type":"quantitative"},"y2":{"field":"bot"}}},
{"data":{"values":[{"t":6,"v":267,"s":"B"}]},
 "mark":{"type":"text","fontSize":15,"fontWeight":"bold","align":"left","baseline":"middle","color":"#000000"},
 "encoding":{"x":{"field":"t","type":"quantitative"},"y":{"field":"v","type":"quantitative"},"text":{"field":"s"}}},
{"data":{"values":[{"t":302,"v":261,"s":"Diagnosis"},{"t":419,"v":261,"s":"Treatment"},{"t":588,"v":261,"s":"Relapse"}]},
 "mark":{"type":"text","fontSize":19,"align":"center","baseline":"middle","color":"#111111"},
 "encoding":{"x":{"field":"t","type":"quantitative"},"y":{"field":"v","type":"quantitative"},"text":{"field":"s"}}},
{"data":{"values":[{"t":1,"v":190,"s":"Population"},{"t":1,"v":170,"s":"size"},{"t":1,"v":98,"s":"Functional"},{"t":1,"v":78,"s":"mutation rate"},{"t":1,"v":31,"s":"Functional"},{"t":1,"v":11,"s":"variants"}]},
 "mark":{"type":"text","fontSize":18.5,"align":"left","baseline":"middle","color":"#111111"},
 "encoding":{"x":{"field":"t","type":"quantitative"},"y":{"field":"v","type":"quantitative"},"text":{"field":"s"}}}
]
}
]
}
